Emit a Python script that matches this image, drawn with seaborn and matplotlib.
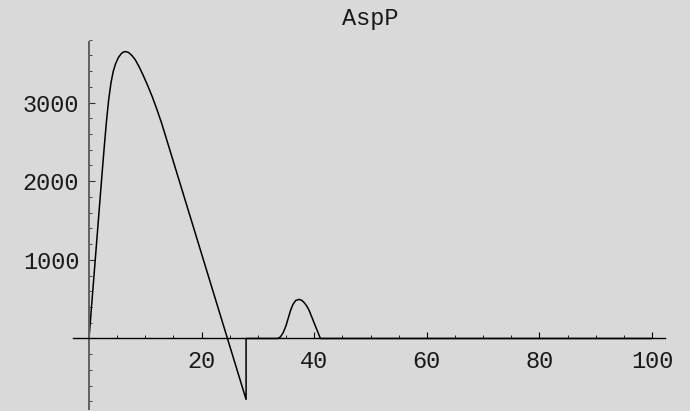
import matplotlib
matplotlib.use("Agg")
import matplotlib.pyplot as plt
from matplotlib.ticker import FixedLocator
import pandas as pd
import seaborn as sns

# AspP time course (sampled points of the solution curve)
t_vals = [0, 2.3, 2.7, 3.1, 3.5, 3.9, 4.3, 4.7, 5.2, 5.7, 6.1, 6.5, 7.0,
          7.6, 8.2, 8.9, 9.6, 10.4, 11.2, 12.0, 12.9, 27.9, 27.9,
          33.5, 34.0, 34.5, 35.0, 35.5, 35.8, 36.2, 36.7, 37.3, 37.8,
          38.3, 38.7, 39.1, 39.6, 40.1, 40.6, 41.1, 100]
aspp_vals = [0, 2080, 2430, 2760, 3040, 3250, 3395, 3490, 3570, 3620, 3642,
             3648, 3638, 3600, 3546, 3455, 3350, 3220, 3080, 2925, 2738,
             -775, 0,
             0, 20, 75, 165, 285, 357, 430, 483, 497, 485,
             450, 410, 357, 268, 178, 89, 0, 0]

title = "AspP"
x_major = [20, 40, 60, 80, 100]
y_major = [1000, 2000, 3000]

bg = "#d9d9d9"
sns.set_style("white")
plt.rcParams["font.family"] = ["Liberation Mono", "DejaVu Sans Mono"]

fig = plt.figure(figsize=(6.9, 4.11), dpi=100, facecolor=bg)
ax = fig.add_axes([0, 0, 1, 1])
ax.set_facecolor(bg)

df = pd.DataFrame({"t": t_vals, "AspP": aspp_vals})
sns.lineplot(data=df, x="t", y="AspP", sort=False, estimator=None,
             color="black", linewidth=1.1, ax=ax)

ax.set_xlim(-15.81, 106.75)
ax.set_ylim(-922, 4304)
ax.set_xlabel("")
ax.set_ylabel("")

# Axes crossing at the origin
for side in ("top", "right"):
    ax.spines[side].set_visible(False)
ax.spines["left"].set_position(("data", 0))
ax.spines["bottom"].set_position(("data", 0))
ax.spines["bottom"].set_bounds(-2.8, 102.3)
ax.spines["left"].set_bounds(-893, 3775)
ax.spines["bottom"].set_color("black")
ax.spines["bottom"].set_linewidth(1.0)
ax.spines["left"].set_color("#606060")
ax.spines["left"].set_linewidth(1.4)

ax.xaxis.set_major_locator(FixedLocator(x_major))
ax.xaxis.set_minor_locator(FixedLocator([v for v in range(5, 101, 5) if v not in x_major]))
ax.yaxis.set_major_locator(FixedLocator(y_major))
ax.yaxis.set_minor_locator(FixedLocator([v for v in range(-800, 3801, 200)
                                         if v not in y_major and v != 0]))
ax.set_xticklabels([str(v) for v in x_major])
ax.set_yticklabels([str(v) for v in y_major])

ax.tick_params(bottom=True, left=True, which="both")
ax.tick_params(axis="x", which="major", direction="in", length=4, width=0.8,
               color="black", labelsize=17, pad=8)
ax.tick_params(axis="x", which="minor", direction="in", length=2.5, width=0.6,
               color="black")
ax.tick_params(axis="y", which="major", direction="in", length=4, width=0.8,
               color="#303030", labelsize=17, pad=7)
ax.tick_params(axis="y", which="minor", direction="in", length=2.5, width=0.6,
               color="#303030")
for lab in ax.get_xticklabels() + ax.get_yticklabels():
    lab.set_color("#1a1a1a")

ax.text(370 / 690, 1 - 18 / 411, title, transform=ax.transAxes,
        ha="center", va="center", fontsize=17, color="#1a1a1a")

fig.savefig("out.png", dpi=100, facecolor=bg)
